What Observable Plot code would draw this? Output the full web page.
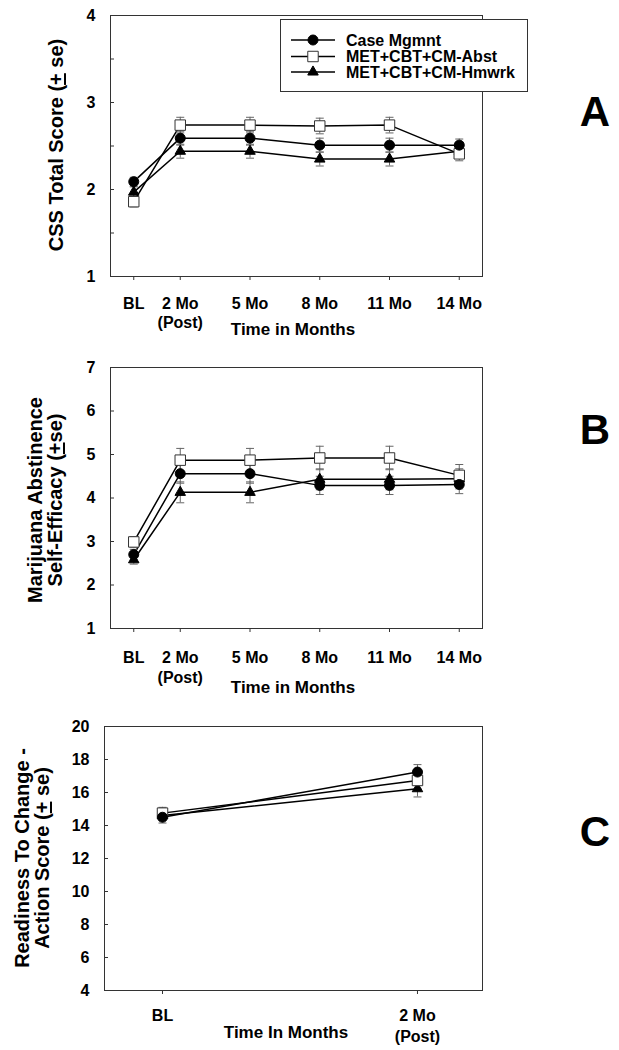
<!DOCTYPE html>
<html><head><meta charset="utf-8">
<script src="https://cdn.jsdelivr.net/npm/d3@7"></script>
<script src="https://cdn.jsdelivr.net/npm/@observablehq/plot@0.6"></script>
<style>
body{margin:0;background:#fff;}
#wrap{position:relative;width:619px;height:1050px;overflow:hidden;font-family:"Liberation Sans",Arial,sans-serif;font-weight:bold;color:#000;}
.panel{position:absolute;left:0;}
.ylab{position:absolute;transform:translate(-50%,-50%) rotate(-90deg);white-space:nowrap;font-size:20px;line-height:20px;text-align:center;}
.xlab{position:absolute;transform:translate(-50%,-50%);white-space:nowrap;font-size:17px;}
.letter{position:absolute;transform:translate(-50%,-50%);font-size:42px;}
#legend{position:absolute;left:280px;top:19px;}
</style>
</head><body>
<div id="wrap"></div>
<script>
// ---------------- data ----------------
const seriesNames = ["Case Mgmnt", "MET+CBT+CM-Abst", "MET+CBT+CM-Hmwrk"];

// Panel A: CSS Total Score
const monthsAB = [0, 2, 5, 8, 11, 14];
const labelsAB = ["BL", "2 Mo\n(Post)", "5 Mo", "8 Mo", "11 Mo", "14 Mo"];
const cssCase  = [2.09, 2.59, 2.59, 2.51, 2.51, 2.51];
const cssAbst  = [1.86, 2.74, 2.74, 2.73, 2.74, 2.41];
const cssHmwrk = [1.97, 2.44, 2.44, 2.35, 2.35, 2.44];
const cssCaseSe  = [0.05, 0.08, 0.08, 0.08, 0.08, 0.07];
const cssAbstSe  = [0.06, 0.09, 0.09, 0.09, 0.09, 0.08];
const cssHmwrkSe = [0.06, 0.08, 0.08, 0.08, 0.08, 0.07];
const cssLabelTicks = [1, 2, 3, 4];
const cssMinorTicks = [1, 1.5, 2, 2.5, 3, 3.5, 4];

// Panel B: Marijuana Abstinence Self-Efficacy
const seCase  = [2.70, 4.56, 4.56, 4.29, 4.29, 4.31];
const seAbst  = [2.99, 4.87, 4.87, 4.92, 4.92, 4.52];
const seHmwrk = [2.58, 4.13, 4.13, 4.43, 4.43, 4.44];
const seCaseSe  = [0.12, 0.22, 0.22, 0.21, 0.21, 0.21];
const seAbstSe  = [0.12, 0.27, 0.27, 0.27, 0.27, 0.25];
const seHmwrkSe = [0.10, 0.24, 0.24, 0.24, 0.24, 0.23];
const effLabelTicks = [1, 2, 3, 4, 5, 6, 7];

// Panel C: Readiness To Change - Action Score
const monthsC = [0, 2];
const labelsC = ["BL", "2 Mo\n(Post)"];
const rtcCase  = [14.50, 17.24];
const rtcAbst  = [14.75, 16.73];
const rtcHmwrk = [14.60, 16.23];
const rtcCaseSe  = [0.35, 0.45];
const rtcAbstSe  = [0.35, 0.50];
const rtcHmwrkSe = [0.30, 0.50];
const rtcLabelTicks = [4, 6, 8, 10, 12, 14, 16, 18, 20];

// ---------------- helpers ----------------
function rows(months, vals, ses) {
  const out = [];
  vals.forEach((arr, k) => arr.forEach((v, i) => out.push({series: seriesNames[k], t: months[i], v, se: ses[k][i]})));
  return out;
}
const cap = {draw(ctx, size) { const r = Math.sqrt(size / Math.PI); ctx.moveTo(-r, 0); ctx.lineTo(r, 0); }};
const symStyle = {
  "Case Mgmnt": {symbol: "circle", fill: "#000", stroke: "#000", r: 5},
  "MET+CBT+CM-Abst": {symbol: "square", fill: "#fff", stroke: "#333", r: 5.9},
  "MET+CBT+CM-Hmwrk": {symbol: "triangle", fill: "#000", stroke: "#000", r: 3.9}
};
const drawOrder = ["MET+CBT+CM-Hmwrk", "MET+CBT+CM-Abst", "Case Mgmnt"];

function panel(cfg) {
  const data = rows(cfg.months, cfg.vals, cfg.ses);
  const marks = [
    Plot.frame({stroke: "#333"}),
    Plot.line(data, {x: "t", y: "v", z: "series", stroke: "#000", strokeWidth: 1.5}),
    Plot.ruleX(data, {x: "t", y1: d => d.v - d.se, y2: d => d.v + d.se, stroke: "#666", strokeWidth: 1}),
    Plot.dot(data, {x: "t", y: d => d.v + d.se, symbol: cap, r: 4, stroke: "#666", fill: "none", strokeWidth: 1}),
    Plot.dot(data, {x: "t", y: d => d.v - d.se, symbol: cap, r: 4, stroke: "#666", fill: "none", strokeWidth: 1}),
    ...drawOrder.map(s => Plot.dot(data.filter(d => d.series === s), {
      x: "t", y: "v", symbol: symStyle[s].symbol, r: symStyle[s].r,
      fill: symStyle[s].fill, stroke: symStyle[s].stroke, strokeWidth: 1
    })),
    Plot.axisY({ticks: cfg.yLabelTicks, tickFormat: d => String(d), tickSize: 0, tickPadding: 15, label: null, fontSize: 16, fontWeight: "bold"}),
    Plot.axisY({ticks: cfg.yMinorTicks, tickSize: -4, tickFormat: () => "", label: null, stroke: "#333"}),
    Plot.axisX({ticks: cfg.months, tickFormat: d => cfg.labels[cfg.months.indexOf(d)], tickSize: 4, tickPadding: cfg.tickPad, lineHeight: cfg.lineHeight, label: null, fontSize: 16, fontWeight: "bold", stroke: "#333"})
  ];
  const svg = Plot.plot({
    width: 619, height: cfg.height,
    marginLeft: cfg.ml, marginRight: 619 - 482, marginTop: cfg.mt, marginBottom: cfg.mb,
    x: {domain: cfg.xDomain},
    y: {domain: cfg.yDomain},
    style: {fontFamily: "'Liberation Sans', Arial, sans-serif", fontSize: "16px", fontWeight: "bold", color: "#000", background: "transparent", overflow: "visible"},
    marks
  });
  const holder = document.createElement("div");
  holder.className = "panel";
  holder.style.top = cfg.top + "px";
  holder.appendChild(svg);
  document.getElementById("wrap").appendChild(holder);
}

panel({months: monthsAB, labels: labelsAB, vals: [cssCase, cssAbst, cssHmwrk], ses: [cssCaseSe, cssAbstSe, cssHmwrkSe],
  xDomain: [-1, 15], yDomain: [1, 4], yLabelTicks: cssLabelTicks, yMinorTicks: cssMinorTicks,
  top: 0, height: 345, ml: 110, mt: 15, mb: 69, tickPad: 15, lineHeight: 1.2});
panel({months: monthsAB, labels: labelsAB, vals: [seCase, seAbst, seHmwrk], ses: [seCaseSe, seAbstSe, seHmwrkSe],
  xDomain: [-1, 15], yDomain: [1, 7], yLabelTicks: effLabelTicks, yMinorTicks: effLabelTicks,
  top: 345, height: 355, ml: 110, mt: 22, mb: 72, tickPad: 16, lineHeight: 1.25});
panel({months: monthsC, labels: labelsC, vals: [rtcCase, rtcAbst, rtcHmwrk], ses: [rtcCaseSe, rtcAbstSe, rtcHmwrkSe],
  xDomain: [-0.455, 2.51], yDomain: [4, 20], yLabelTicks: rtcLabelTicks, yMinorTicks: rtcLabelTicks,
  top: 700, height: 350, ml: 104, mt: 26, mb: 60, tickPad: 11, lineHeight: 1.35});

// ---------------- text overlays ----------------
const wrap = document.getElementById("wrap");
function addDiv(cls, html, x, y) {
  const d = document.createElement("div");
  d.className = cls; d.innerHTML = html;
  d.style.left = x + "px"; d.style.top = y + "px";
  wrap.appendChild(d);
}
addDiv("ylab", "CSS Total Score (<u>+</u> se)", 56, 145);
addDiv("ylab", "Marijuana Abstinence<br>Self-Efficacy (<u>+</u>se)", 45, 500);
addDiv("ylab", "Readiness To Change -<br>Action Score (<u>+</u> se)", 32, 858);
addDiv("xlab", "Time in Months", 293, 330);
addDiv("xlab", "Time in Months", 293, 688);
addDiv("xlab", "Time In Months", 286, 1033);
addDiv("letter", "A", 595, 112);
addDiv("letter", "B", 595, 430);
addDiv("letter", "C", 595, 832);

// ---------------- legend ----------------
const lg = d3.select(wrap).append("svg").attr("id", "legend").attr("width", 249).attr("height", 74);
lg.append("rect").attr("x", 0.5).attr("y", 0.5).attr("width", 247).attr("height", 72).attr("fill", "#fff").attr("stroke", "#333");
const symMap = {circle: d3.symbolCircle, square: d3.symbolSquare, triangle: d3.symbolTriangle};
seriesNames.forEach((name, i) => {
  const y = [21, 37.5, 53][i];
  const st = symStyle[name];
  lg.append("line").attr("x1", 11).attr("x2", 55).attr("y1", y).attr("y2", y).attr("stroke", "#000").attr("stroke-width", 1.3);
  lg.append("path").attr("d", d3.symbol(symMap[st.symbol], Math.PI * st.r * st.r)())
    .attr("transform", `translate(33,${y})`).attr("fill", st.fill).attr("stroke", st.stroke);
  lg.append("text").attr("x", 66).attr("y", y).attr("dy", "0.36em").attr("font-size", 16).attr("font-weight", "bold")
    .attr("font-family", "'Liberation Sans', Arial, sans-serif").text(name);
});
</script>
</body></html>
